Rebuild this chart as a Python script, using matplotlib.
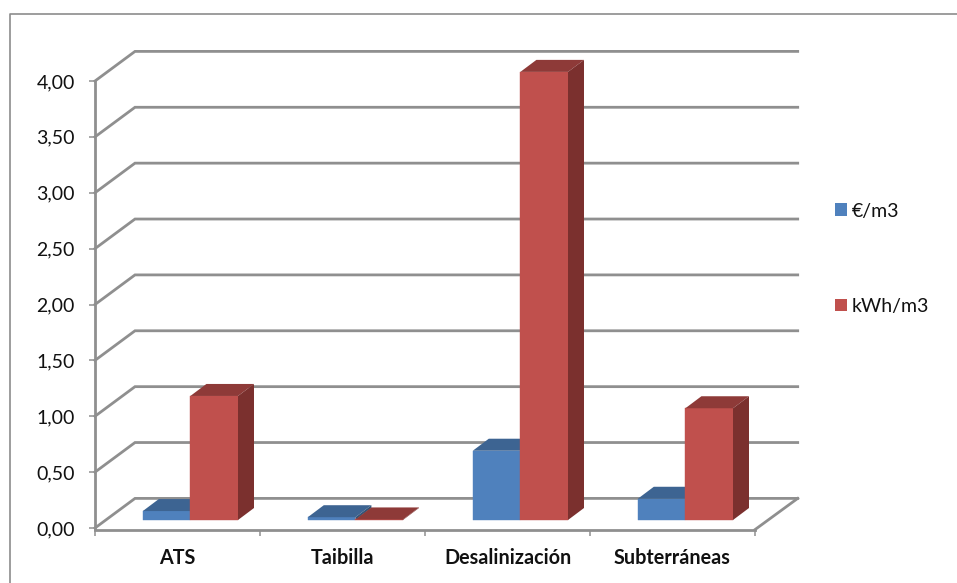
#coding:utf-8
import matplotlib

matplotlib.use("Agg")
import matplotlib.pyplot as plt
from matplotlib.lines import Line2D
from matplotlib.patches import Patch, Polygon

categories = ["ATS", "Taibilla", "Desalinización", "Subterráneas"]
eur_m3 = [0.08, 0.025, 0.62, 0.19]
kwh_m3 = [1.11, 0.005, 4.01, 1.00]
yticks = [0.0, 0.5, 1.0, 1.5, 2.0, 2.5, 3.0, 3.5, 4.0]
series_names = ["€/m3", "kWh/m3"]

GRID = "#8f8f8f"
BLUE = ("#4f81bd", "#3d6492", "#345578")
RED = ("#c0504d", "#8e3a38", "#7b302e")

W, H = 957, 583
# front plane of the 3d box, pixels
LEFT, RIGHT, BASE, TOP = 95, 755, 528, 81
FLOOR_DX, FLOOR_DY = 40 / 165.0, 29.6 / 111.75  # wall depth in data units
WALL_END = 42.7 / 165.0
BAR_DX, BAR_DY = 16 / 165.0, 12 / 111.75        # bar depth
GAP_Y = 8 / 111.75                              # bars stand a little behind the front edge
BAR_W = 47.6 / 165.0
BAR_START = 47.8 / 165.0

plt.rcParams['font.family'] = ['Lato', 'DejaVu Sans']

fig = plt.figure(figsize=(W / 100.0, H / 100.0), dpi=100)
ax = fig.add_axes([LEFT / W, 1 - BASE / H, (RIGHT - LEFT) / W, (BASE - TOP) / H])
ax.set_xlim(0, len(categories))
ax.set_ylim(0, 4)
ax.patch.set_alpha(0)

# chart frame, only left and top fall inside the image
fig.add_artist(Line2D([9.5 / W, 9.5 / W, 1], [0, 1 - 14 / H, 1 - 14 / H], color="#8c8c8c", lw=1.2))

# walls
wall_right = len(categories) + WALL_END
for v in yticks:
    ax.plot([0, FLOOR_DX, wall_right], [v, v + FLOOR_DY, v + FLOOR_DY],
            color=GRID, lw=2.0, clip_on=False, zorder=1, solid_joinstyle="miter")
ax.plot([len(categories), wall_right], [-1.6 / 111.75, FLOOR_DY], color=GRID, lw=2.0, clip_on=False, zorder=1)


def draw_bar(x, value, colors):
    front, top, side = colors
    ax.bar(x, value, BAR_W, bottom=GAP_Y, align="edge", color=front, zorder=3,
           edgecolor=front, linewidth=0.3, clip_on=False)
    y1 = GAP_Y + value
    x1 = x + BAR_W
    ax.add_patch(Polygon([(x, y1), (x1, y1), (x1 + BAR_DX, y1 + BAR_DY), (x + BAR_DX, y1 + BAR_DY)],
                         facecolor=top, zorder=3, clip_on=False))
    ax.add_patch(Polygon([(x1, GAP_Y), (x1 + BAR_DX, GAP_Y + BAR_DY), (x1 + BAR_DX, y1 + BAR_DY), (x1, y1)],
                         facecolor=side, zorder=3, clip_on=False))


for i in range(len(categories)):
    draw_bar(i + BAR_START, eur_m3[i], BLUE)
    draw_bar(i + BAR_START + BAR_W, kwh_m3[i], RED)

# axes
for name in ("top", "right"):
    ax.spines[name].set_visible(False)
for name in ("left", "bottom"):
    ax.spines[name].set_color(GRID)
    ax.spines[name].set_linewidth(2.0)
    ax.spines[name].set_zorder(2)
ax.spines["bottom"].set_position(("outward", 1.2))

ax.set_yticks(yticks)
ax.set_yticklabels([("%.2f" % v).replace(".", ",") for v in yticks], fontsize=14, color="#111111")
ax.tick_params(axis="y", length=4.5, width=1.1, color=GRID, pad=10)

ax.set_xticks(range(len(categories) + 1))
ax.set_xticklabels([""] * (len(categories) + 1))
ax.set_xticks([i + 0.5 for i in range(len(categories))], minor=True)
ax.set_xticklabels(categories, minor=True, fontsize=14.2, fontweight="bold", color="#111111")
ax.tick_params(axis="x", which="major", length=4.5, width=1.1, color=GRID)
ax.tick_params(axis="x", which="minor", length=0, pad=13)

handles = [Patch(facecolor=BLUE[0], label=series_names[0]), Patch(facecolor=RED[0], label=series_names[1])]
fig.legend(handles=handles, loc="upper left", bbox_to_anchor=(835 / W, 1 - 202.5 / H), frameon=False,
           fontsize=14, handlelength=0.62, handleheight=0.62, handletextpad=0.22,
           labelspacing=4.02, borderpad=0, borderaxespad=0, labelcolor="#111111")

fig.savefig("out.png", dpi=100)
